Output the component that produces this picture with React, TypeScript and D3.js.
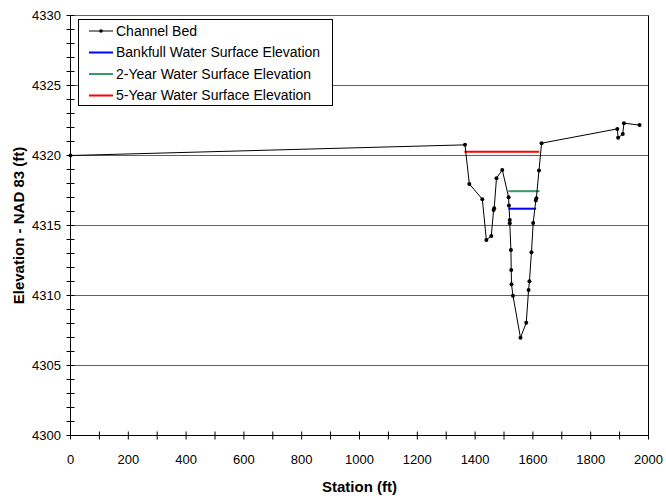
import React from "react";
import * as d3 from "d3";

const stations = [0, 1365, 1380, 1425, 1439, 1456, 1464, 1466, 1474, 1494, 1516, 1517, 1520, 1520, 1524, 1525, 1526, 1531, 1557, 1577, 1585, 1588, 1595, 1601, 1610, 1612, 1621, 1630, 1892, 1895, 1911, 1915, 1969];
const elevations = [4320.0, 4320.76, 4317.97, 4316.88, 4313.97, 4314.25, 4316.11, 4316.23, 4318.38, 4318.97, 4317.02, 4316.42, 4315.4, 4315.16, 4313.25, 4311.82, 4310.8, 4309.99, 4306.98, 4308.05, 4310.39, 4311.01, 4313.09, 4315.18, 4316.78, 4316.95, 4318.92, 4320.88, 4321.9, 4321.26, 4321.54, 4322.31, 4322.17];

const wsNames = ["Bankfull Water Surface Elevation", "2-Year Water Surface Elevation", "5-Year Water Surface Elevation"];
const wsStart = [1516, 1515, 1363];
const wsEnd = [1611, 1623, 1622];
const wsElev = [4316.2, 4317.45, 4320.26];
const wsColors = ["#0000ff", "#339966", "#ff0000"];

const xTicks = [0, 200, 400, 600, 800, 1000, 1200, 1400, 1600, 1800, 2000];
const yTicks = [4300, 4305, 4310, 4315, 4320, 4325, 4330];

const FONT = "'Liberation Sans', Arial, sans-serif";

export default function App() {
  const W = 666, H = 499;
  const x = d3.scaleLinear().domain([0, 2000]).range([70.5, 648.5]);
  const y = d3.scaleLinear().domain([4300, 4330]).range([435.5, 15.5]);
  const line = d3.line<number>().x((_, i) => x(stations[i])).y((d) => y(d));
  const xMinor = d3.range(0, 2001, 100);
  const yMinor = d3.range(4300, 4331, 1);
  const legendRows = ["Channel Bed", ...wsNames];
  const legendColors = ["#000000", ...wsColors];
  return (
    <svg width={W} height={H} style={{ position: "absolute", left: 0, top: 0, background: "#fff" }} fontFamily={FONT}>
      <rect x={0} y={0} width={W} height={H} fill="#fff" />
      {yTicks.slice(1).map((t) => (
        <line key={"g" + t} x1={x(0)} x2={x(2000)} y1={y(t)} y2={y(t)} stroke="#606060" strokeWidth={1} />
      ))}
      <line x1={x(2000)} x2={x(2000)} y1={y(4330)} y2={y(4300)} stroke="#000" strokeWidth={1} />
      <line x1={x(0)} x2={x(0)} y1={y(4330)} y2={y(4300)} stroke="#000" strokeWidth={1} />
      <line x1={x(0)} x2={x(2000)} y1={y(4300)} y2={y(4300)} stroke="#000" strokeWidth={1} />
      {yMinor.map((t) => (
        <line key={"ym" + t} x1={x(0) - 4} x2={x(0) + 4} y1={y(t)} y2={y(t)} stroke="#000" strokeWidth={1} />
      ))}
      {xMinor.map((t) => (
        <line key={"xm" + t} x1={x(t)} x2={x(t)} y1={y(4300) - 4} y2={y(4300) + 4} stroke="#000" strokeWidth={1} />
      ))}
      {yTicks.map((t) => (
        <text key={"yl" + t} x={61} y={y(t)} dy="0.35em" textAnchor="end" fontSize={13} fill="#000">{t}</text>
      ))}
      {xTicks.map((t) => (
        <text key={"xl" + t} x={x(t)} y={459} dy="0.35em" textAnchor="middle" fontSize={13} fill="#000">{t}</text>
      ))}
      <text x={x(1000)} y={487} dy="0.35em" textAnchor="middle" fontSize={15} fontWeight="bold">Station (ft)</text>
      <text transform={`translate(19,${(y(4300) + y(4330)) / 2}) rotate(-90)`} dy="0.35em" textAnchor="middle" fontSize={15} fontWeight="bold">Elevation - NAD 83 (ft)</text>
      {wsNames.map((n, i) => (
        <line key={n} x1={x(wsStart[i])} x2={x(wsEnd[i])} y1={y(wsElev[i])} y2={y(wsElev[i])} stroke={wsColors[i]} strokeWidth={2} />
      ))}
      <path d={line(elevations) || ""} fill="none" stroke="#000" strokeWidth={1} />
      {elevations.map((e, i) => (
        <circle key={"p" + i} cx={x(stations[i])} cy={y(e)} r={2} fill="#000" />
      ))}
      <g>
        <rect x={78.5} y={19.5} width={254} height={86} fill="#fff" stroke="#000" strokeWidth={1} />
        {legendRows.map((n, i) => {
          const ry = 31 + i * 21.5;
          return (
            <g key={n}>
              <line x1={89} x2={113} y1={ry} y2={ry} stroke={legendColors[i]} strokeWidth={i === 0 ? 1 : 2} />
              {i === 0 && <circle cx={101} cy={ry} r={1.8} fill="#000" />}
              <text x={116} y={ry} dy="0.35em" fontSize={14} fill="#000">{n}</text>
            </g>
          );
        })}
      </g>
    </svg>
  );
}
